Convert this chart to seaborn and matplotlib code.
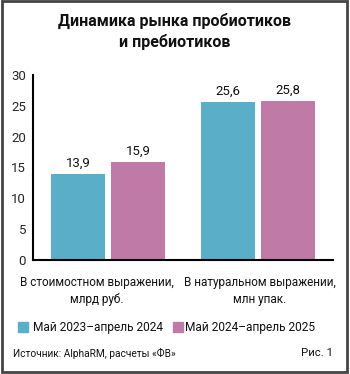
import matplotlib
matplotlib.use("Agg")
import matplotlib.pyplot as plt
import seaborn as sns
import pandas as pd
from matplotlib.patches import Rectangle

categories = ["В стоимостном выражении,\nмлрд руб.", "В натуральном выражении,\nмлн упак."]
series = ["Май 2023–апрель 2024", "Май 2024–апрель 2025"]
values_2023 = [13.9, 25.6]
values_2024 = [15.9, 25.8]
y_ticks = [0, 5, 10, 15, 20, 25, 30]
colors = ["#5aaec8", "#bf7aa8"]

title = "Динамика рынка пробиотиков\nи пребиотиков"
source = "Источник: AlphaRM, расчеты «ФВ»"
fig_label = "Рис. 1"

df = pd.DataFrame({
    "cat": categories * 2,
    "series": [series[0]] * 2 + [series[1]] * 2,
    "value": values_2023 + values_2024,
})

sns.set_style("white")
FONT = ["Roboto", "DejaVu Sans"]
plt.rcParams["font.family"] = FONT

fig = plt.figure(figsize=(3.5, 3.74), dpi=100)
ax = fig.add_axes([33/350, 1-260/374, 300/350, 185/374])

sns.barplot(data=df, x="cat", y="value", hue="series", order=categories,
            hue_order=series, palette=colors, width=0.8, gap=0.1,
            saturation=1, ax=ax, legend=False, edgecolor="none")

for cont, vals in zip(ax.containers, [values_2023, values_2024]):
    ax.bar_label(cont, labels=[f"{v:.1f}".replace(".", ",") for v in vals],
                 padding=3, fontsize=9.5, color="#111111")

ax.set_xlim(-0.5, 1.5)
ax.set_ylim(0, 30)
ax.set_yticks(y_ticks)
ax.set_yticklabels([str(t) for t in y_ticks], fontsize=9.5)
ax.set_xticks([0.5, 1.5])
ax.set_xticklabels([])
ax.tick_params(axis="y", direction="in", length=5, width=1.2, color="black", pad=5)
ax.tick_params(axis="x", direction="in", length=5, width=1.2, color="black")
ax.set_xlabel("")
ax.set_ylabel("")
for s in ["top", "right"]:
    ax.spines[s].set_visible(False)
for s in ["left", "bottom"]:
    ax.spines[s].set_color("black")
    ax.spines[s].set_linewidth(1.5)

label_x = [-0.073, 1.013]
for x, c in zip(label_x, categories):
    ax.text(x, -2.65, c, ha="center", va="top", fontsize=8.5, linespacing=1.4,
            transform=ax.transData, family=FONT, color="#111111")

fig.text(0.5, 1-31.5/374, title, ha="center", va="center", fontsize=11.5,
         fontweight="bold", linespacing=1.45, family=FONT, color="#111111")

# legend
fig.patches.append(Rectangle((18/350, 1-332/374), 10/350, 10/374,
                             transform=fig.transFigure, color=colors[0]))
fig.text(33/350, 1-327/374, series[0], ha="left", va="center", fontsize=8.6,
         family=FONT, color="#111111")
fig.patches.append(Rectangle((173/350, 1-332/374), 10/350, 10/374,
                             transform=fig.transFigure, color=colors[1]))
fig.text(185/350, 1-327/374, series[1], ha="left", va="center", fontsize=8.6,
         family=FONT, color="#111111")

fig.text(13/350, 1-353/374, source, ha="left", va="center", fontsize=7.3,
         family=FONT, color="#111111")
fig.text(333/350, 1-353/374, fig_label, ha="right", va="center", fontsize=8.2,
         family=FONT, color="#111111")

fig.patches.append(Rectangle((2/350, 2/374), 345/350, 371/374, transform=fig.transFigure,
                             fill=False, edgecolor="#444444", linewidth=2))

fig.savefig("out.png", dpi=100)
